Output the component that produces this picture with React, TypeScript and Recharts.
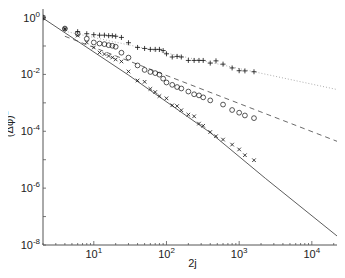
import React from "react";
import { ComposedChart, Scatter, XAxis, YAxis } from "recharts";

// shared abscissa of the three simulated series (2j)
const xs = [2, 4, 6, 8, 10, 12, 14, 16, 18, 20, 24, 30, 40, 50, 60, 70, 80, 90, 100, 120, 140, 160, 200, 240, 280, 320, 400, 480, 600, 800, 1000, 1200, 1600];

const plusY = [1.0, 0.4, 0.32, 0.27, 0.25, 0.24, 0.24, 0.23, 0.23, 0.22, 0.2, 0.13, 0.089, 0.082, 0.076, 0.076, 0.076, 0.069, 0.053, 0.041, 0.043, 0.041, 0.031, 0.031, 0.031, 0.031, 0.025, 0.03, 0.023, 0.0169, 0.0135, 0.0133, 0.0124];
const circleY = [1.0, 0.41, 0.27, 0.18, 0.133, 0.122, 0.116, 0.107, 0.102, 0.094, 0.058, 0.039, 0.0207, 0.0144, 0.0122, 0.0111, 0.0098, 0.0071, 0.0052, 0.0043, 0.0036, 0.0032, 0.0025, 0.002, 0.00183, 0.00156, 0.00122, null, 0.00087, 0.00056, 0.00045, 0.00036, 0.00029];
const crossY = [1.0, 0.4, 0.233, 0.133, 0.0885, 0.059, 0.052, 0.0446, 0.0394, 0.0336, 0.0286, 0.0127, 0.0061, 0.0055, 0.0031, 0.0024, 0.00173, null, 0.00144, 0.00082, 0.00077, 0.00055, 0.000385, 0.000336, 0.000186, 0.000156, 9.4e-5, 6.7e-5, 5.1e-5, 3.4e-5, 2.3e-5, 1.44e-5, 9.6e-6];

// reference curves
const solidX = [2, 30, 400, 2300, 26000];
const solidY = [0.95, 0.0095, 9e-5, 2.2e-6, 1.5e-8];
const dashedX = [4, 26000];
const dashedY = [0.22, 3.8e-5];
const dottedX = [4, 26000];
const dottedY = [0.33, 0.0027];

// ticks
const xTicks = [2, 3, 4, 5, 6, 7, 8, 9, 10, 20, 30, 40, 50, 60, 70, 80, 90, 100, 200, 300, 400, 500, 600, 700, 800, 900, 1000, 2000, 3000, 4000, 5000, 6000, 7000, 8000, 9000, 10000, 20000];
const yTicks = [1e-8, 1e-7, 1e-6, 1e-5, 1e-4, 1e-3, 1e-2, 1e-1, 1];
const xLabelExp = [1, 2, 3, 4];
const yLabelExp = [-8, -6, -4, -2, 0];

const pts = (x: number[], y: (number | null)[]) =>
  x.map((v, i) => ({ x: v, y: y[i] })).filter((p) => p.y != null);

const AX = "#555";
const FONT = "'Liberation Sans', Arial, sans-serif";

const expOf = (v: number) => {
  const l = Math.log10(v);
  const e = Math.round(l);
  return Math.abs(l - e) < 1e-6 ? e : null;
};

const BottomTick = (props: any) => {
  const { x, y, payload } = props;
  const e = expOf(payload.value);
  const show = e != null && xLabelExp.includes(e);
  return (
    <g>
      <line x1={x} x2={x} y1={y} y2={y - (e != null ? 4 : 2)} stroke={AX} strokeWidth={0.8} />
      {show && (
        <text x={x} y={y + 13} textAnchor="middle" fontSize={11} fontFamily={FONT} fill="#222">
          10<tspan dy={-5} fontSize={8}>{e}</tspan>
        </text>
      )}
    </g>
  );
};

const TopTick = (props: any) => {
  const { x, y, payload } = props;
  const e = expOf(payload.value);
  return <line x1={x} x2={x} y1={y} y2={y + (e != null ? 4 : 2)} stroke={AX} strokeWidth={0.8} />;
};

const LeftTick = (props: any) => {
  const { x, y, payload } = props;
  const e = expOf(payload.value);
  const show = e != null && yLabelExp.includes(e);
  return (
    <g>
      <line x1={x} x2={x + 3} y1={y} y2={y} stroke={AX} strokeWidth={0.8} />
      {show && (
        <text x={x - 3} y={y + 4} textAnchor="end" fontSize={11} fontFamily={FONT} fill="#222">
          10<tspan dy={-5} fontSize={8}>{e}</tspan>
        </text>
      )}
    </g>
  );
};

const RightTick = (props: any) => {
  const { x, y } = props;
  return <line x1={x} x2={x - 3} y1={y} y2={y} stroke={AX} strokeWidth={0.8} />;
};

const Plus = (p: any) => (
  <g stroke="#111" strokeWidth={0.8}>
    <line x1={p.cx - 2.5} x2={p.cx + 2.5} y1={p.cy} y2={p.cy} />
    <line x1={p.cx} x2={p.cx} y1={p.cy - 2.5} y2={p.cy + 2.5} />
  </g>
);
const Circle = (p: any) => <circle cx={p.cx} cy={p.cy} r={2.4} fill="none" stroke="#111" strokeWidth={0.7} />;
const Cross = (p: any) => (
  <g stroke="#111" strokeWidth={0.8}>
    <line x1={p.cx - 1.8} x2={p.cx + 1.8} y1={p.cy - 1.8} y2={p.cy + 1.8} />
    <line x1={p.cx - 1.8} x2={p.cx + 1.8} y1={p.cy + 1.8} y2={p.cy - 1.8} />
  </g>
);
const NoDot = () => <g />;

const YLabel = () => (
  <text transform="translate(13,124) rotate(-90)" textAnchor="middle" fontSize={11} fontFamily={FONT} fill="#222">
    (Δφ)<tspan dy={-5} fontSize={8}>2</tspan>
  </text>
);

export default function App() {
  return (
    <div style={{ margin: "-8px 0 0 -8px", width: 345, height: 278 }}>
      <ComposedChart width={345} height={278} margin={{ top: 9, right: 3, bottom: 0, left: 0 }}>
        <XAxis
          xAxisId="b"
          dataKey="x"
          type="number"
          scale="log"
          domain={[2, 26000]}
          allowDataOverflow
          ticks={xTicks}
          interval={0}
          height={33}
          tickSize={0}
          tickMargin={0}
          tickLine={false}
          tick={<BottomTick />}
          axisLine={{ stroke: AX, strokeWidth: 1 }}
          label={{ value: "2j", position: "insideBottom", offset: 11, fontSize: 11, fontFamily: FONT, fill: "#222" }}
        />
        <XAxis
          xAxisId="t"
          orientation="top"
          dataKey="x"
          type="number"
          scale="log"
          domain={[2, 26000]}
          allowDataOverflow
          ticks={xTicks}
          interval={0}
          height={0}
          tickSize={0}
          tickMargin={0}
          tickLine={false}
          tick={<TopTick />}
          axisLine={{ stroke: AX, strokeWidth: 1 }}
        />
        <YAxis
          yAxisId="l"
          dataKey="y"
          type="number"
          scale="log"
          domain={[1e-8, 2]}
          allowDataOverflow
          ticks={yTicks}
          interval={0}
          width={43}
          tickSize={0}
          tickMargin={0}
          tickLine={false}
          tick={<LeftTick />}
          axisLine={{ stroke: AX, strokeWidth: 1 }}
          label={<YLabel />}
        />
        <YAxis
          yAxisId="r"
          orientation="right"
          dataKey="y"
          type="number"
          scale="log"
          domain={[1e-8, 2]}
          allowDataOverflow
          ticks={yTicks}
          interval={0}
          width={0}
          tickSize={0}
          tickMargin={0}
          tickLine={false}
          tick={<RightTick />}
          axisLine={{ stroke: AX, strokeWidth: 1 }}
        />
        <Scatter xAxisId="b" yAxisId="l" data={pts(solidX, solidY)} line={{ stroke: "#333", strokeWidth: 0.8 }} shape={NoDot} isAnimationActive={false} />
        <Scatter xAxisId="b" yAxisId="l" data={pts(dashedX, dashedY)} line={{ stroke: "#444", strokeWidth: 0.8, strokeDasharray: "5 4" }} shape={NoDot} isAnimationActive={false} />
        <Scatter xAxisId="b" yAxisId="l" data={pts(dottedX, dottedY)} line={{ stroke: "#999", strokeWidth: 0.8, strokeDasharray: "1 2" }} shape={NoDot} isAnimationActive={false} />
        <Scatter xAxisId="b" yAxisId="l" data={pts(xs, plusY)} shape={Plus} isAnimationActive={false} />
        <Scatter xAxisId="b" yAxisId="l" data={pts(xs, circleY)} shape={Circle} isAnimationActive={false} />
        <Scatter xAxisId="b" yAxisId="l" data={pts(xs, crossY)} shape={Cross} isAnimationActive={false} />
      </ComposedChart>
    </div>
  );
}
